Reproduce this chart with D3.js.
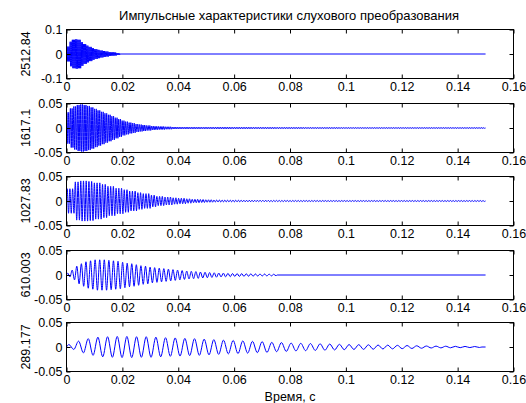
<!DOCTYPE html>
<html>
<head>
<meta charset="utf-8">
<script src="https://cdn.jsdelivr.net/npm/d3@7"></script>
<style>
  body { margin: 0; background: #fff; }
  svg text { font-family: "Liberation Sans", Arial, sans-serif; fill: #000; }
</style>
</head>
<body>
<svg id="chart" width="526" height="403"></svg>
<script>
// chart data
const title = "Импульсные характеристики слухового преобразования";
const xLabel = "Время, с";
const channelLabels = ["2512.84", "1617.1", "1027.83", "610.003", "289.177"];
const channelFreqs = [2512.84, 1617.1, 1027.83, 610.003, 289.177];
const xTicks = [0, 0.02, 0.04, 0.06, 0.08, 0.1, 0.12, 0.14, 0.16];
const yTicksBig = [-0.1, 0, 0.1];
const yTicksSmall = [-0.05, 0, 0.05];
const tEnd = 0.15;

// envelope peaks
// channel 1: one value per 1 ms
const env1 = [0.03, 0.05, 0.058, 0.06, 0.058, 0.048, 0.04, 0.034, 0.029, 0.024,
  0.02, 0.017, 0.014, 0.012, 0.01, 0.008, 0.007, 0.006, 0.004];
// channel 2: one value per 1.25 ms
const env2 = [0.032, 0.040, 0.044, 0.047, 0.048, 0.047, 0.045, 0.042, 0.039, 0.036,
  0.033, 0.030, 0.027, 0.024, 0.021, 0.018, 0.015, 0.013, 0.011, 0.010,
  0.008, 0.007, 0.006, 0.005, 0.004, 0.0035, 0.003, 0.003, 0.0025, 0.0025,
  0.002, 0.002, 0.0018, 0.0018, 0.0018, 0.0017, 0.0017, 0.0017, 0.0016, 0.0016,
  0.0016, 0.0016, 0.0015, 0.0015, 0.0015, 0.0015, 0.0015, 0.0014, 0.0014, 0.0014,
  0.0014, 0.0014, 0.0014, 0.0013, 0.0013, 0.0013, 0.0013, 0.0013, 0.0013, 0.0013,
  0.0012, 0.0012, 0.0012, 0.0012, 0.0012, 0.0012, 0.0012, 0.0012, 0.0011, 0.0011,
  0.0011, 0.0011, 0.0011, 0.0011, 0.0011, 0.0011, 0.0011, 0.0011, 0.001, 0.001,
  0.001, 0.001, 0.001, 0.001, 0.001, 0.001, 0.001, 0.001, 0.001, 0.001,
  0.001, 0.001, 0.001, 0.001, 0.001, 0.001, 0.001, 0.001, 0.001, 0.001,
  0.001, 0.001, 0.001, 0.001, 0.001, 0.001, 0.001, 0.001, 0.001, 0.001,
  0.001, 0.001, 0.001, 0.001, 0.001, 0.001, 0.001, 0.001, 0.001, 0.001];
// channel 3: one value per 2.5 ms
const env3 = [0.025, 0.039, 0.041, 0.040, 0.037, 0.034, 0.030, 0.026, 0.023, 0.020,
  0.017, 0.015, 0.012, 0.0095, 0.008, 0.0065, 0.0055, 0.0045, 0.0035, 0.003,
  0.0025, 0.002, 0.0018, 0.0017, 0.0016, 0.0015, 0.0015, 0.0014, 0.0014, 0.0013,
  0.0013, 0.0012, 0.0012, 0.0012, 0.0011, 0.0011, 0.0011, 0.001, 0.001, 0.001,
  0.001, 0.001, 0.001, 0.001, 0.001, 0.001, 0.001, 0.001, 0.001, 0.001,
  0.001, 0.001, 0.001, 0.001, 0.001, 0.001, 0.001, 0.001, 0.001, 0.001];
// channel 4: one value per cycle
const env4 = [0.004, 0.010, 0.018, 0.023, 0.027, 0.029, 0.031, 0.031, 0.031, 0.030,
  0.029, 0.028, 0.026, 0.024, 0.023, 0.021, 0.019, 0.018, 0.016, 0.015,
  0.014, 0.013, 0.012, 0.011, 0.010, 0.009, 0.008, 0.0075, 0.007, 0.006,
  0.0055, 0.005, 0.0045, 0.004, 0.0038, 0.0035, 0.003, 0.003, 0.0028, 0.0025,
  0.0025, 0.0022, 0.002, 0.002, 0.0018, 0.0015];
// channel 5: one value per cycle
const env5 = [0.005, 0.012, 0.017, 0.020, 0.021, 0.0215, 0.0215, 0.021, 0.021, 0.020,
  0.019, 0.0185, 0.0175, 0.017, 0.016, 0.015, 0.014, 0.0135, 0.0125, 0.0115,
  0.011, 0.0095, 0.009, 0.008, 0.0075, 0.007, 0.0065, 0.006, 0.0055, 0.005,
  0.0048, 0.0045, 0.004, 0.0038, 0.0034, 0.003, 0.0025, 0.002, 0.0018, 0.0016,
  0.0014, 0.0012, 0.001];
const envelopes = [env1, env2, env3, env4, env5];
const envSteps = [0.001, 0.00125, 0.0025, null, null]; // null = per cycle

// layout
const W = 526, H = 403;
const plotLeft = 66.5, plotRight = 513.5;
const panelTops = [29.5, 103.5, 176.5, 250.5, 322.5];
const panelH = 49;

const svg = d3.select("#chart");
svg.append("rect").attr("width", W).attr("height", H).attr("fill", "#fff");

const x = d3.scaleLinear().domain([0, 0.16]).range([plotLeft, plotRight]);

// peaks of each cycle -> points for the line
function wavePoints(f, env, step) {
  const pts = [[0, 0]];
  let k = 0;
  while (true) {
    const tc = (k + 0.5) / f;
    const idx = step ? Math.floor(tc / step) : k;
    if (idx >= env.length || (k + 1) / f > tEnd) break;
    const a = env[idx];
    pts.push([(k + 0.25) / f, a], [(k + 0.75) / f, -a]);
    k++;
  }
  pts.push([k / f, 0], [tEnd, 0]);
  return pts;
}

const fmt = d => String(d);

channelLabels.forEach((lab, i) => {
  const top = panelTops[i];
  const ticksY = i === 0 ? yTicksBig : yTicksSmall;
  const y = d3.scaleLinear()
    .domain([ticksY[0], ticksY[2]])
    .range([top + panelH, top]);

  const g = svg.append("g");

  // signal
  const line = d3.line()
    .x(d => x(d[0]))
    .y(d => y(d[1]))
    .curve(d3.curveMonotoneX);
  g.append("path")
    .datum(wavePoints(channelFreqs[i], envelopes[i], envSteps[i]))
    .attr("d", line)
    .attr("fill", "none")
    .attr("stroke", "#0000ff")
    .attr("stroke-width", 1);

  // axes with inward ticks
  const axB = g.append("g").attr("transform", `translate(0,${top + panelH})`)
    .call(d3.axisBottom(x).tickValues(xTicks).tickFormat(fmt)
      .tickSizeInner(-4).tickSizeOuter(0).tickPadding(4));
  const axT = g.append("g").attr("transform", `translate(0,${top})`)
    .call(d3.axisTop(x).tickValues(xTicks).tickFormat("")
      .tickSizeInner(-4).tickSizeOuter(0));
  const axL = g.append("g").attr("transform", `translate(${plotLeft},0)`)
    .call(d3.axisLeft(y).tickValues(ticksY).tickFormat(fmt)
      .tickSizeInner(-4).tickSizeOuter(0).tickPadding(4));
  const axR = g.append("g").attr("transform", `translate(${plotRight},0)`)
    .call(d3.axisRight(y).tickValues(ticksY).tickFormat("")
      .tickSizeInner(-4).tickSizeOuter(0));
  [axB, axT, axL, axR].forEach(a => {
    a.select(".domain").remove();
    a.selectAll("line").attr("stroke", "#000");
    a.selectAll("text").attr("font-size", 12.5).attr("fill", "#000")
      .style("font-family", '"Liberation Sans", Arial, sans-serif');
  });

  // box
  g.append("rect")
    .attr("x", plotLeft).attr("y", top)
    .attr("width", plotRight - plotLeft).attr("height", panelH)
    .attr("fill", "none").attr("stroke", "#000").attr("stroke-width", 1);

  // channel label
  g.append("text")
    .attr("transform", `translate(30,${top + panelH / 2}) rotate(-90)`)
    .attr("text-anchor", "middle")
    .attr("font-size", 12.5)
    .text(lab);
});

svg.append("text")
  .attr("x", 289).attr("y", 20)
  .attr("text-anchor", "middle").attr("font-size", 13)
  .text(title);

svg.append("text")
  .attr("x", (plotLeft + plotRight) / 2).attr("y", 401)
  .attr("text-anchor", "middle").attr("font-size", 12.5)
  .text(xLabel);
</script>
</body>
</html>
